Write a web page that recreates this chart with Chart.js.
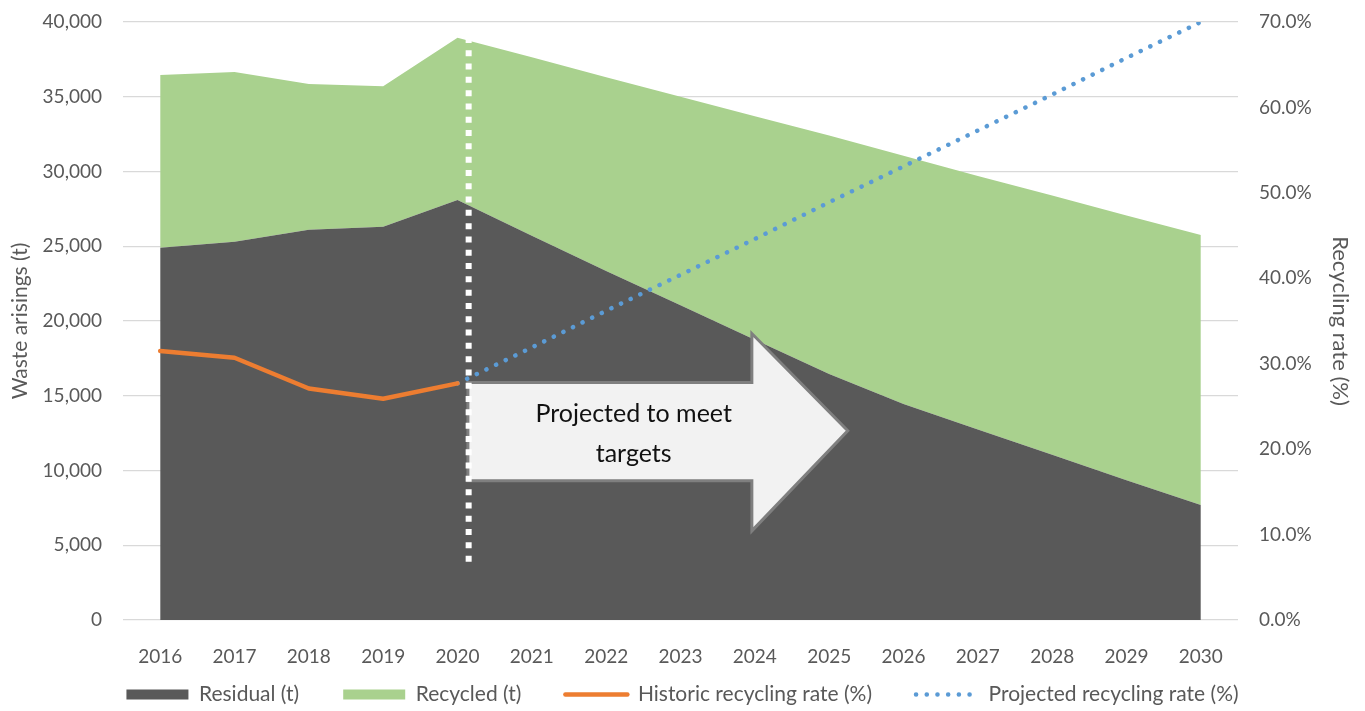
<!DOCTYPE html>
<html>
<head>
<meta charset="utf-8">
<script src="https://cdn.jsdelivr.net/npm/chart.js@4.4.1/dist/chart.umd.min.js"></script>
<style>
	html, body { margin: 0; padding: 0; background: #fff; }
	#wrap { width: 1365px; height: 711px; }
</style>
</head>
<body>
<div id="wrap"><canvas id="waste-chart" width="1365" height="711"></canvas></div>
<script>
// values
const years = ["2016", "2017", "2018", "2019", "2020", "2021", "2022", "2023", "2024", "2025", "2026", "2027", "2028", "2029", "2030"];
const residual = [24900, 25300, 26100, 26300, 28100, 25700, 23350, 21050, 18750, 16450, 14450, 12750, 11050, 9350, 7700];
const recycled = [11550, 11350, 9750, 9400, 10850, 11950, 12950, 13950, 14950, 15950, 16600, 16950, 17350, 17700, 18050];
const historicRate = [31.5, 30.7, 27.1, 25.9, 27.7, null, null, null, null, null, null, null, null, null, null];
const projectedRate = [null, null, null, null, 27.7, 31.9, 36.2, 40.4, 44.6, 48.9, 53.1, 57.3, 61.5, 65.8, 70.0];
const arrowText = ["Projected to meet", "targets"];

const FONT = "Lato, 'Liberation Sans', sans-serif";
const grey = "#595959";

// white dotted divider + arrow callout, placed in axis units
const calloutPlugin = {
	id: "callout",
	beforeDatasetDraw(chart, args) {
		if (args.index !== 3) return;
		const ctx = chart.ctx;
		const xs = chart.scales.x, ys = chart.scales.y;
		const step = xs.getPixelForValue(1) - xs.getPixelForValue(0);
		const px = (i) => xs.getPixelForValue(0) + i * step;
		const py = (v) => ys.getPixelForValue(v);

		ctx.save();
		// arrow
		ctx.beginPath();
		ctx.moveTo(px(4.14), py(15880));
		ctx.lineTo(px(7.96), py(15880));
		ctx.lineTo(px(7.96), py(19160));
		ctx.lineTo(px(9.25), py(12660));
		ctx.lineTo(px(7.96), py(5960));
		ctx.lineTo(px(7.96), py(9310));
		ctx.lineTo(px(4.14), py(9310));
		ctx.closePath();
		ctx.fillStyle = "#f2f2f2";
		ctx.fill();
		ctx.lineWidth = 3;
		ctx.strokeStyle = "#7f7f7f";
		ctx.lineJoin = "miter";
		ctx.stroke();

		ctx.fillStyle = "#111111";
		ctx.font = "25px " + FONT;
		ctx.textAlign = "center";
		ctx.textBaseline = "middle";
		ctx.fillText(arrowText[0], px(6.37), py(13800));
		ctx.fillText(arrowText[1], px(6.37), py(11120));

		// dotted divider
		ctx.beginPath();
		ctx.setLineDash([6, 7.3]);
		ctx.lineWidth = 6;
		ctx.strokeStyle = "#ffffff";
		ctx.moveTo(px(4.15), py(39000));
		ctx.lineTo(px(4.15), py(3750));
		ctx.stroke();
		ctx.restore();
	},
	afterLayout(chart) {
		// put the legend row where the original has it
		const lg = chart.legend;
		const h = lg.height;
		lg.top = 640;
		lg.bottom = lg.top + h;
	}
};

// no extra label padding above/below the value axes
const noAxisPad = (scale, w) => {
	scale.width = w;
	scale.paddingTop = 0;
	scale.paddingBottom = 0;
};

const ctx = document.getElementById("waste-chart");
const chart = new Chart(ctx, {
	type: "line",
	data: {
		labels: years,
		datasets: [{
			label: "Residual (t)",
			data: residual,
			yAxisID: "y",
			backgroundColor: "#595959",
			borderColor: "#595959",
			borderWidth: 0,
			pointRadius: 0,
			fill: "origin",
			order: 1
		}, {
			label: "Recycled (t)",
			data: recycled,
			yAxisID: "y",
			backgroundColor: "#a9d18e",
			borderColor: "#a9d18e",
			borderWidth: 0,
			pointRadius: 0,
			fill: "-1",
			order: 1
		}, {
			label: "Historic recycling rate (%)",
			data: historicRate,
			yAxisID: "y1",
			borderColor: "#ed7d31",
			backgroundColor: "#ed7d31",
			borderWidth: 4.5,
			borderCapStyle: "round",
			borderJoinStyle: "round",
			pointRadius: 0,
			fill: false,
			order: 0
		}, {
			label: "Projected recycling rate (%)",
			data: projectedRate,
			yAxisID: "y1",
			borderColor: "#5b9bd5",
			backgroundColor: "#5b9bd5",
			borderWidth: 4.5,
			borderDash: [0.1, 10.6],
			borderCapStyle: "round",
			pointRadius: 0,
			fill: false,
			order: 0
		}]
	},
	options: {
		responsive: false,
		animation: false,
		layout: { padding: { top: 22, left: 0, right: 0, bottom: -29 } },
		elements: { line: { tension: 0 } },
		plugins: {
			tooltip: { enabled: false },
			legend: {
				position: "bottom",
				labels: {
					usePointStyle: true,
					pointStyleWidth: 62,
					boxHeight: 10,
					padding: 44,
					color: grey,
					font: { family: FONT, size: 21 },
					sort: (a, b) => a.datasetIndex - b.datasetIndex,
					generateLabels(chart) {
						const items = Chart.defaults.plugins.legend.labels.generateLabels(chart);
						items.forEach((it) => {
							const ds = chart.data.datasets[it.datasetIndex];
							it.pointStyle = it.datasetIndex < 2 ? "rect" : "line";
							it.fillStyle = ds.backgroundColor;
							it.strokeStyle = ds.borderColor;
							it.lineWidth = ds.borderWidth;
							it.lineDash = ds.borderDash || [];
							it.lineCap = ds.borderCapStyle || "butt";
						});
						return items;
					}
				}
			}
		},
		scales: {
			x: {
				offset: true,
				grid: { display: false },
				border: { display: false },
				ticks: { color: grey, font: { family: FONT, size: 19 }, padding: 17, maxRotation: 0, autoSkip: false },
				afterFit(scale) { scale.height = 45; }
			},
			y: {
				position: "left",
				stacked: true,
				min: 0,
				max: 40000,
				grid: { color: "#d9d9d9", lineWidth: 1.3, drawTicks: false },
				border: { display: false },
				ticks: {
					stepSize: 5000,
					padding: 21,
					color: grey,
					font: { family: FONT, size: 19 },
					callback: (v) => v.toLocaleString("en-US")
				},
				title: {
					display: true,
					text: "Waste arisings (t)",
					color: grey,
					font: { family: FONT, size: 21 },
					padding: { top: 8, bottom: 0 }
				},
				afterFit(scale) { noAxisPad(scale, 123); }
			},
			y1: {
				position: "right",
				min: 0,
				max: 70,
				grid: { display: false, drawTicks: false },
				border: { display: false },
				ticks: {
					stepSize: 10,
					padding: 21,
					color: grey,
					font: { family: FONT, size: 19 },
					callback: (v) => v.toFixed(1) + "%"
				},
				title: {
					display: true,
					text: "Recycling rate (%)",
					color: grey,
					font: { family: FONT, size: 22 },
					padding: { top: 12, bottom: 0 }
				},
				afterFit(scale) { noAxisPad(scale, 127); }
			}
		}
	},
	plugins: [calloutPlugin]
});
</script>
</body>
</html>
